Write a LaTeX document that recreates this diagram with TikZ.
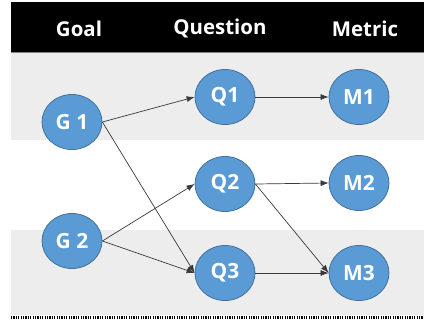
\documentclass[tikz,border=0pt]{standalone}
\usepackage{fontspec}
\setmainfont{Open Sans}
\usetikzlibrary{shapes.geometric,arrows.meta}
\definecolor{nodefill}{HTML}{5B9BD5}
\definecolor{nodeborder}{HTML}{41719C}
\definecolor{band}{HTML}{EDEDED}
\definecolor{edgecol}{HTML}{3A3A3A}
\begin{document}
\begin{tikzpicture}[x=1bp,y=-1bp,
  gnode/.style={ellipse, draw=nodeborder, line width=0.8bp, fill=nodefill,
    minimum width=60bp, minimum height=55bp, inner sep=0pt, text=white,
    font=\fontsize{21}{21}\selectfont\bfseries},
  hdr/.style={text=white, font=\fontsize{20.5}{21}\selectfont\bfseries},
  link/.style={draw=edgecol, line width=0.7bp, -{Latex[length=8bp,width=6bp]}}]
\useasboundingbox (0,0) rectangle (424,320);
\fill[white] (0,0) rectangle (424,320);
\fill[black] (11,2) rectangle (424,52);
\fill[band] (11,52) rectangle (424,140);
\fill[band] (11,230) rectangle (424,315);
\draw[gray, line width=1bp] (11,52.5) -- (424,52.5);
\draw[black, line width=2.5bp, dash pattern=on 1.2bp off 1.2bp] (11,317.5) -- (424,317.5);

\node[hdr] (hg) at (79,28.5) {Goal};
\node[hdr] (hq) at (220,28.5) {Question};
\node[hdr] (hm) at (365,28.5) {Metric};

\node[gnode] (G1) at (72,122) {G 1};
\node[gnode] (G2) at (72,241) {G 2};
\node[gnode] (Q1) at (225,97) {Q1};
\node[gnode] (Q2) at (225,184) {Q2};
\node[gnode] (Q3) at (225,273) {Q3};
\node[gnode] (M1) at (359,97) {M1};
\node[gnode] (M2) at (359,183) {M2};
\node[gnode] (M3) at (359,273) {M3};

\draw[link] (G1.east) -- (Q1.west);
\draw[link] (G1.east) -- (Q3.west);
\draw[link] (G2.east) -- (Q2.west);
\draw[link] (G2.east) -- (Q3.west);
\draw[link] (Q1.east) -- (M1.west);
\draw[link] (Q2.east) -- (M2.west);
\draw[link] (Q2.east) -- (M3.west);
\draw[link] (Q3.east) -- (M3.west);
\end{tikzpicture}
\end{document}
